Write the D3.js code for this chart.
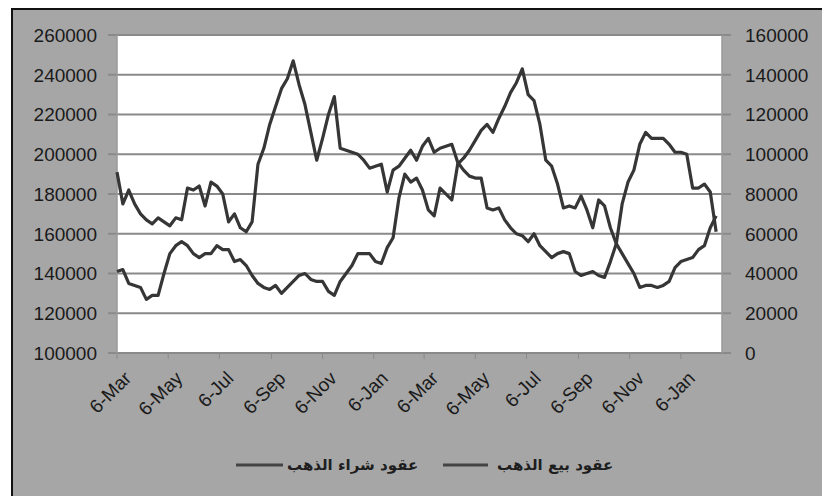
<!DOCTYPE html>
<html>
<head>
<meta charset="utf-8">
<script src="https://cdn.jsdelivr.net/npm/d3@7"></script>
<style>
  body { margin: 0; background: #fff; }
  svg { display: block; }
</style>
</head>
<body>
<script>
// ---------------- DATA ----------------
// weekly readings, first week is 6-Mar
var startDate = new Date(2011, 2, 6);

// عقود شراء الذهب (left axis)
var buyContracts = [
  191000, 175000, 182000, 175000, 170000, 167000, 165000, 168000, 166000, 164000,
  168000, 167000, 183000, 182000, 184000, 174000, 186000, 184000, 180000, 166000,
  170000, 163000, 161000, 166000, 195000, 203000, 215000, 224000, 233000, 238000,
  247000, 235000, 225000, 211000, 197000, 208000, 220000, 229000, 203000, 202000,
  201000, 200000, 197000, 193000, 194000, 195000, 181000, 192000, 194000, 198000,
  202000, 197000, 204000, 208000, 201000, 203000, 204000, 205000, 196000, 192000,
  189000, 188000, 188000, 173000, 172000, 173000, 167000, 163000, 160000, 159000,
  156000, 160000, 154000, 151000, 148000, 150000, 151000, 150000, 141000, 139000,
  140000, 141000, 139000, 138000, 146000, 155000, 175000, 186000, 192000, 205000,
  211000, 208000, 208000, 208000, 205000, 201000, 201000, 200000, 183000, 183000,
  185000, 181000, 161000
];

// عقود بيع الذهب (right axis)
var sellContracts = [
  41000, 42000, 35000, 34000, 33000, 27000, 29000, 29000, 40000, 50000,
  54000, 56000, 54000, 50000, 48000, 50000, 50000, 54000, 52000, 52000,
  46000, 47000, 44000, 39000, 35000, 33000, 32000, 34000, 30000, 33000,
  36000, 39000, 40000, 37000, 36000, 36000, 31000, 29000, 36000, 40000,
  44000, 50000, 50000, 50000, 46000, 45000, 53000, 58000, 78000, 90000,
  86000, 88000, 82000, 72000, 69000, 83000, 80000, 77000, 95000, 98000,
  102000, 107000, 112000, 115000, 111000, 118000, 124000, 131000, 136000, 143000,
  130000, 127000, 115000, 97000, 94000, 85000, 73000, 74000, 73000, 79000,
  72000, 63000, 77000, 74000, 63000, 55000, 50000, 45000, 40000, 33000,
  34000, 34000, 33000, 34000, 36000, 43000, 46000, 47000, 48000, 52000,
  54000, 63000, 69000
];

var leftTicks = [100000, 120000, 140000, 160000, 180000, 200000, 220000, 240000, 260000];
var rightTicks = [0, 20000, 40000, 60000, 80000, 100000, 120000, 140000, 160000];
var legendLabels = ["عقود شراء الذهب", "عقود بيع الذهب"];

// ---------------- LAYOUT ----------------
var width = 822, height = 496;
var plotLeft = 117, plotRight = 722, plotTop = 35, plotBottom = 353;
var labelFont = "'Liberation Sans', Arial, sans-serif";

var svg = d3.select("body").append("svg")
  .attr("width", width)
  .attr("height", height);

// chart area (gray with black frame)
svg.append("rect")
  .attr("x", 12).attr("y", 9)
  .attr("width", 830).attr("height", 500)
  .attr("fill", "#a6a6a6")
  .attr("stroke", "#111")
  .attr("stroke-width", 2);

// plot area
svg.append("rect")
  .attr("x", plotLeft).attr("y", plotTop)
  .attr("width", plotRight - plotLeft).attr("height", plotBottom - plotTop)
  .attr("fill", "#fff");

// scales
var dates = buyContracts.map(function(d, i) { return d3.timeDay.offset(startDate, 7 * i); });
var endDate = d3.timeDay.offset(startDate, 721);

var x = d3.scaleTime().domain([startDate, endDate]).range([plotLeft, plotRight]);
var yLeft = d3.scaleLinear().domain([100000, 260000]).range([plotBottom, plotTop]);
var yRight = d3.scaleLinear().domain([0, 160000]).range([plotBottom, plotTop]);

// gridlines (extend past the plot as tick marks on both sides)
svg.append("g").selectAll("line")
  .data(leftTicks)
  .enter().append("line")
  .attr("x1", plotLeft - 9)
  .attr("x2", plotRight + 9)
  .attr("y1", function(d) { return yLeft(d); })
  .attr("y2", function(d) { return yLeft(d); })
  .attr("stroke", "#8a8a8a")
  .attr("stroke-width", 2);

// axis lines
svg.append("line")
  .attr("x1", plotLeft).attr("x2", plotLeft)
  .attr("y1", plotTop).attr("y2", plotBottom)
  .attr("stroke", "#9a9a9a").attr("stroke-width", 1.5);
svg.append("line")
  .attr("x1", plotRight).attr("x2", plotRight)
  .attr("y1", plotTop).attr("y2", plotBottom)
  .attr("stroke", "#9a9a9a").attr("stroke-width", 1.5);

// left axis labels
svg.append("g").selectAll("text")
  .data(leftTicks)
  .enter().append("text")
  .attr("x", 97)
  .attr("y", function(d) { return yLeft(d); })
  .attr("dy", "0.36em")
  .attr("text-anchor", "end")
  .style("font-family", labelFont)
  .style("font-size", "19px")
  .style("fill", "#1a1a1a")
  .text(function(d) { return d; });

// right axis labels
svg.append("g").selectAll("text")
  .data(rightTicks)
  .enter().append("text")
  .attr("x", 745)
  .attr("y", function(d) { return yRight(d); })
  .attr("dy", "0.36em")
  .attr("text-anchor", "start")
  .style("font-family", labelFont)
  .style("font-size", "19px")
  .style("fill", "#1a1a1a")
  .text(function(d) { return d; });

// x axis: ticks every 2 months on the 6th
var tickDates = d3.range(12).map(function(i) { return d3.timeMonth.offset(startDate, 2 * i); });
var fmt = d3.timeFormat("%-d-%b");

svg.append("g").selectAll("line")
  .data(tickDates)
  .enter().append("line")
  .attr("x1", function(d) { return x(d); })
  .attr("x2", function(d) { return x(d); })
  .attr("y1", plotBottom)
  .attr("y2", plotBottom + 6)
  .attr("stroke", "#8a8a8a")
  .attr("stroke-width", 1);

svg.append("g").selectAll("text")
  .data(tickDates)
  .enter().append("text")
  .attr("transform", function(d) { return "translate(" + (x(d) + 6) + "," + (plotBottom + 17) + ") rotate(-45)"; })
  .attr("text-anchor", "end")
  .attr("dy", "0.7em")
  .style("font-family", labelFont)
  .style("font-size", "19px")
  .style("fill", "#1a1a1a")
  .text(function(d) { return fmt(d); });

// ---------------- LINES ----------------
var lineLeft = d3.line()
  .x(function(d, i) { return x(dates[i]); })
  .y(function(d) { return yLeft(d); });
var lineRight = d3.line()
  .x(function(d, i) { return x(dates[i]); })
  .y(function(d) { return yRight(d); });

svg.append("path")
  .attr("d", lineLeft(buyContracts))
  .attr("fill", "none")
  .attr("stroke", "#363636")
  .attr("stroke-width", 3.2)
  .attr("stroke-linejoin", "round");

svg.append("path")
  .attr("d", lineRight(sellContracts))
  .attr("fill", "none")
  .attr("stroke", "#363636")
  .attr("stroke-width", 3.2)
  .attr("stroke-linejoin", "round");

// ---------------- LEGEND ----------------
var legendY = 465;
var legendItems = [
  { label: legendLabels[0], x1: 236, x2: 283, tx: 287 },
  { label: legendLabels[1], x1: 443, x2: 488, tx: 497 }
];

legendItems.forEach(function(item) {
  svg.append("line")
    .attr("x1", item.x1).attr("x2", item.x2)
    .attr("y1", legendY).attr("y2", legendY)
    .attr("stroke", "#444")
    .attr("stroke-width", 3);
  svg.append("text")
    .attr("x", item.tx)
    .attr("y", legendY)
    .attr("dy", "0.3em")
    .attr("text-anchor", "start")
    .attr("direction", "ltr")
    .style("font-family", "'DejaVu Sans', sans-serif")
    .style("font-size", "15px")
    .style("font-weight", "bold")
    .style("fill", "#1e1e1e")
    .text(item.label);
});
</script>
</body>
</html>
